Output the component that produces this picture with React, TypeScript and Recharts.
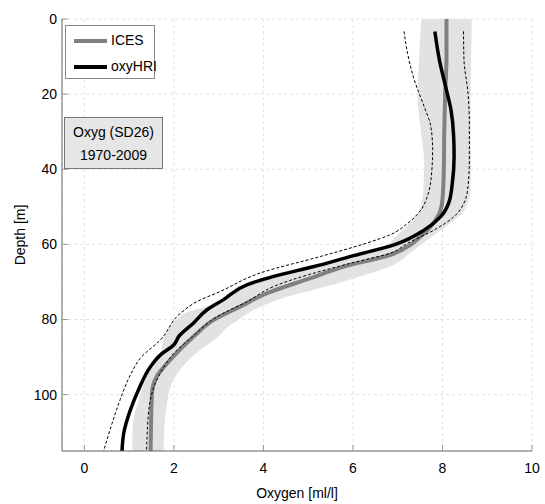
import { ComposedChart, Line, Area, XAxis, YAxis, CartesianGrid } from 'recharts'

// depth profiles (depth in m, oxygen in ml/l)
const icesDepth = [0, 10, 20, 30, 40, 48, 52, 55, 58, 60, 62.8, 65.9, 69, 73, 76.5, 80.1, 84.5, 90.7, 95.1, 99.6, 115]
const icesO2 = [8.09, 8.09, 8.06, 8.04, 8.03, 8.0, 7.92, 7.75, 7.5, 7.3, 6.84, 5.8, 5.05, 4.08, 3.49, 2.89, 2.44, 1.92, 1.62, 1.51, 1.48]

const hriDepth = [3.3, 10.8, 18, 24.2, 31.3, 36.6, 43.7, 48.6, 52.6, 56.2, 60, 63.2, 65.9, 68.5, 70.7, 74.7, 77.4, 80.9, 84.5, 86.7, 89.4, 92.5, 98.7, 104, 110.2, 115]
const hriO2 = [7.83, 7.93, 8.07, 8.19, 8.25, 8.26, 8.22, 8.15, 7.96, 7.59, 6.95, 5.95, 5.13, 4.23, 3.64, 3.11, 2.74, 2.44, 2.11, 2.0, 1.7, 1.48, 1.21, 1.03, 0.88, 0.84]

const hriLowDepth = [3.3, 9.1, 16.2, 23.3, 28.6, 34.8, 42, 47.3, 50.8, 54.4, 57.4, 59.6, 63.2, 67.6, 72.5, 75.2, 78.3, 85.4, 90.3, 94.7, 101.3, 107.6, 115]
const hriLowO2 = [7.14, 7.22, 7.37, 7.59, 7.74, 7.78, 7.75, 7.66, 7.52, 7.22, 6.84, 6.32, 5.28, 3.93, 3.04, 2.52, 2.15, 1.7, 1.25, 1.03, 0.8, 0.62, 0.43]

const hriHighDepth = [3.3, 10.8, 19.7, 28.6, 37.5, 44.6, 49, 52.6, 56.2, 59.7, 62.3, 65, 71.2, 75.2, 79.2, 84.5, 89, 94.2, 104, 115]
const hriHighO2 = [8.47, 8.48, 8.57, 8.6, 8.6, 8.57, 8.48, 8.26, 7.81, 7.22, 6.84, 5.95, 4.23, 3.64, 2.97, 2.42, 2.0, 1.7, 1.44, 1.39]

// ICES spread (shaded band)
const bandDepth = [0, 5, 10, 20, 30, 38, 46, 51, 55, 58, 60, 62, 64, 66, 68, 70, 72, 74, 76, 78, 80, 82, 85, 88, 90, 94, 98, 102, 108, 115]
const bandLo = [7.53, 7.5, 7.48, 7.44, 7.52, 7.59, 7.57, 7.48, 7.22, 6.95, 6.77, 6.3, 5.8, 5.1, 4.35, 3.8, 3.45, 3.2, 2.9, 2.3, 2.05, 1.9, 1.77, 1.72, 1.68, 1.45, 1.3, 1.2, 1.08, 1.07]
const bandHi = [8.65, 8.65, 8.64, 8.63, 8.63, 8.64, 8.62, 8.48, 8.11, 7.75, 7.52, 7.3, 7.1, 6.8, 6.3, 5.75, 5.15, 4.5, 4.05, 3.7, 3.45, 3.2, 2.95, 2.6, 2.4, 2.1, 1.92, 1.85, 1.79, 1.77]

const xTicks = [0, 2, 4, 6, 8, 10]
const yTicks = [0, 20, 40, 60, 80, 100]

const profile = (depth: number[], o2: number[]) => depth.map((d, i) => ({ depth: d, o2: o2[i] }))

const ices = profile(icesDepth, icesO2)
const hri = profile(hriDepth, hriO2)
const hriLow = profile(hriLowDepth, hriLowO2)
const hriHigh = profile(hriHighDepth, hriHighO2)
const band = bandDepth.map((d, i) => ({ depth: d, range: [bandLo[i], bandHi[i]] }))

const FONT = '"Liberation Sans", Arial, Helvetica, sans-serif'
const AXIS = '#666'
const TICK = '#999'

export default function App() {
  return (
    <div style={{ position: 'absolute', left: 0, top: 0, width: 545, height: 504, fontFamily: FONT }}>
      <ComposedChart
        width={545}
        height={504}
        layout="vertical"
        margin={{ top: 19, right: 13, bottom: 0, left: 0 }}
        style={{ fontFamily: FONT }}
      >
        <CartesianGrid stroke="#e3e3e3" strokeDasharray="3 3" />
        <XAxis
          type="number"
          domain={[-0.5, 10]}
          ticks={xTicks}
          allowDataOverflow
          height={53}
          stroke={AXIS}
          tickSize={-6}
          tickMargin={18}
          tickLine={{ stroke: TICK }}
          tick={{ fill: '#000', fontSize: 14 }}
          label={{ value: 'Oxygen [ml/l]', position: 'insideBottom', offset: 6, fill: '#000', fontSize: 14 }}
        />
        <XAxis
          xAxisId="top"
          orientation="top"
          type="number"
          domain={[-0.5, 10]}
          ticks={xTicks}
          allowDataOverflow
          height={0}
          stroke={AXIS}
          tickSize={-6}
          tickLine={{ stroke: TICK }}
          tick={false}
        />
        <YAxis
          type="number"
          dataKey="depth"
          domain={[0, 115]}
          ticks={yTicks}
          allowDataOverflow
          width={62}
          stroke={AXIS}
          tickSize={-6}
          tickMargin={11}
          tickLine={{ stroke: TICK }}
          tick={{ fill: '#000', fontSize: 14 }}
          label={{
            value: 'Depth [m]',
            angle: -90,
            position: 'insideLeft',
            offset: 20,
            fill: '#000',
            fontSize: 14,
            style: { textAnchor: 'middle' },
          }}
        />
        <YAxis
          yAxisId="right"
          orientation="right"
          type="number"
          dataKey="depth"
          domain={[0, 115]}
          ticks={yTicks}
          allowDataOverflow
          width={0}
          stroke={AXIS}
          tickSize={-6}
          tickLine={{ stroke: TICK }}
          tick={false}
        />
        <Area
          data={band}
          dataKey="range"
          type="monotone"
          fill="#e2e2e2"
          fillOpacity={1}
          stroke="none"
          isAnimationActive={false}
        />
        <Line data={ices} dataKey="o2" type="monotone" stroke="#808080" strokeWidth={4} dot={false} isAnimationActive={false} />
        <Line data={hriLow} dataKey="o2" type="monotone" stroke="#000" strokeWidth={1} strokeDasharray="3 2" dot={false} isAnimationActive={false} />
        <Line data={hriHigh} dataKey="o2" type="monotone" stroke="#000" strokeWidth={1} strokeDasharray="3 2" dot={false} isAnimationActive={false} />
        <Line data={hri} dataKey="o2" type="monotone" stroke="#000" strokeWidth={3.5} dot={false} isAnimationActive={false} />
      </ComposedChart>

      {/* legend */}
      <div
        style={{
          position: 'absolute', left: 65, top: 25, width: 90, height: 54,
          background: '#fff', border: '1px solid #888', boxSizing: 'border-box', fontSize: 14,
        }}
      >
        <div style={{ position: 'absolute', left: 8, top: 13, width: 33, height: 4, background: '#808080' }} />
        <div style={{ position: 'absolute', left: 45, top: 6, lineHeight: '16px' }}>ICES</div>
        <div style={{ position: 'absolute', left: 8, top: 39, width: 33, height: 4, background: '#000' }} />
        <div style={{ position: 'absolute', left: 45, top: 32, lineHeight: '16px' }}>oxyHRI</div>
      </div>

      {/* area / period box */}
      <div
        style={{
          position: 'absolute', left: 64, top: 117, width: 99, height: 52,
          background: '#e6e6e6', border: '1px solid #777', boxSizing: 'border-box',
          fontSize: 14, textAlign: 'center', lineHeight: '23px', paddingTop: 3,
        }}
      >
        <div>Oxyg (SD26)</div>
        <div>1970-2009</div>
      </div>
    </div>
  )
}
